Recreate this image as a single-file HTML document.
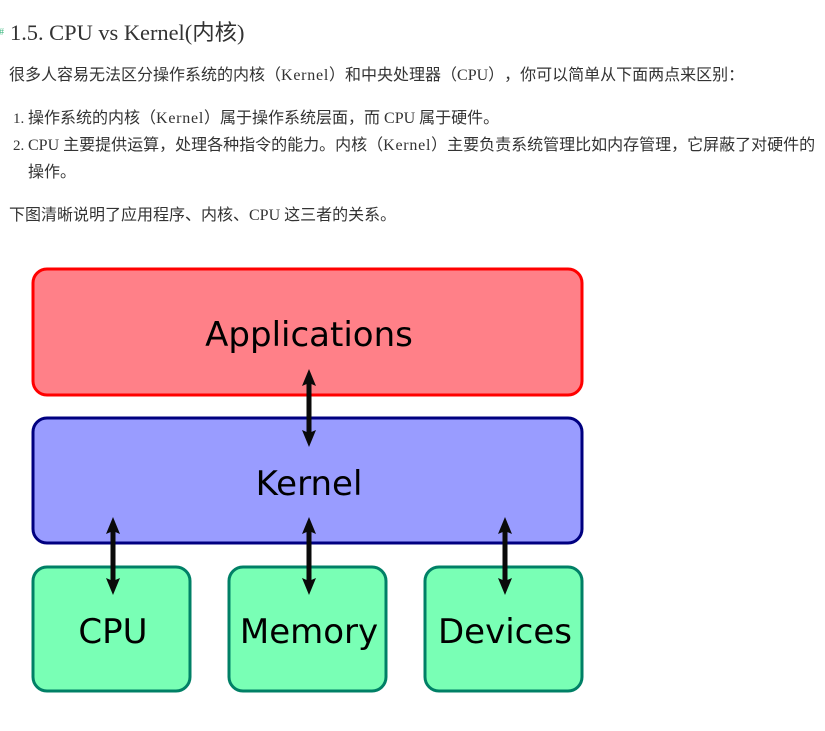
<!DOCTYPE html>
<html>
<head>
<meta charset="utf-8">
<style>
html,body{margin:0;padding:0;background:#fff;width:825px;height:731px;overflow:hidden}
.t{position:absolute;white-space:nowrap;font-family:"Liberation Serif","Noto Sans CJK SC",serif;color:#333;font-size:16px;line-height:20px;margin:0;text-spacing-trim:space-all;font-kerning:none;font-feature-settings:"palt" 0,"chws" 0}
.k{letter-spacing:.75px}
svg{position:absolute;left:0;top:0}
</style>
</head>
<body>
<div class="t" style="left:-1px;top:23px;font-size:10px;color:#42b983">#</div>
<div class="t" style="left:10px;top:19px;font-size:22.4px;line-height:28px;color:#333">1.5. CPU vs Kernel(内核)</div>
<div class="t" style="left:9px;top:66px">很多人容易无法区分操作系统的内核（<span class="k">Kernel</span>）和中央处理器（CPU），你可以简单从下面两点来区别：</div>
<div class="t" style="left:13px;top:109px;font-size:15px">1.</div>
<div class="t" style="left:28px;top:109px">操作系统的内核（<span class="k">Kernel</span>）属于操作系统层面，而 CPU 属于硬件。</div>
<div class="t" style="left:13px;top:136px;font-size:15px">2.</div>
<div class="t" style="left:28px;top:136px">CPU 主要提供运算，处理各种指令的能力。内核（<span class="k">Kernel</span>）主要负责系统管理比如内存管理，它屏蔽了对硬件的</div>
<div class="t" style="left:28px;top:163px">操作。</div>
<div class="t" style="left:9px;top:206px">下图清晰说明了应用程序、内核、CPU 这三者的关系。</div>
<svg width="825" height="731" viewBox="0 0 825 731" xmlns="http://www.w3.org/2000/svg">
<defs>
<g id="arrow">
<line x1="0" y1="10" x2="0" y2="68" stroke="#0a0a0a" stroke-width="5"/>
<path d="M0 0 L7 17 L0 14 L-7 17 Z" fill="#0a0a0a"/>
<path d="M0 78 L7 61 L0 64 L-7 61 Z" fill="#0a0a0a"/>
</g>
</defs>
<rect x="33" y="269" width="549" height="126" rx="14" fill="#ff8088" stroke="#ff0000" stroke-width="3"/>
<rect x="33" y="418" width="549" height="125" rx="14" fill="#999cff" stroke="#000080" stroke-width="3"/>
<rect x="33" y="567" width="157" height="124" rx="14" fill="#79ffb5" stroke="#008066" stroke-width="3"/>
<rect x="229" y="567" width="157" height="124" rx="14" fill="#79ffb5" stroke="#008066" stroke-width="3"/>
<rect x="425" y="567" width="157" height="124" rx="14" fill="#79ffb5" stroke="#008066" stroke-width="3"/>
<g font-family="'DejaVu Sans',sans-serif" fill="#000" text-anchor="middle" font-size="34">
<text x="309" y="346">Applications</text>
<text x="309" y="495">Kernel</text>
<text x="113" y="643">CPU</text>
<text x="309" y="643">Memory</text>
<text x="505" y="643">Devices</text>
</g>
<use href="#arrow" x="309" y="369"/>
<use href="#arrow" x="113" y="517"/>
<use href="#arrow" x="309" y="517"/>
<use href="#arrow" x="505" y="517"/>
</svg>
</body>
</html>
